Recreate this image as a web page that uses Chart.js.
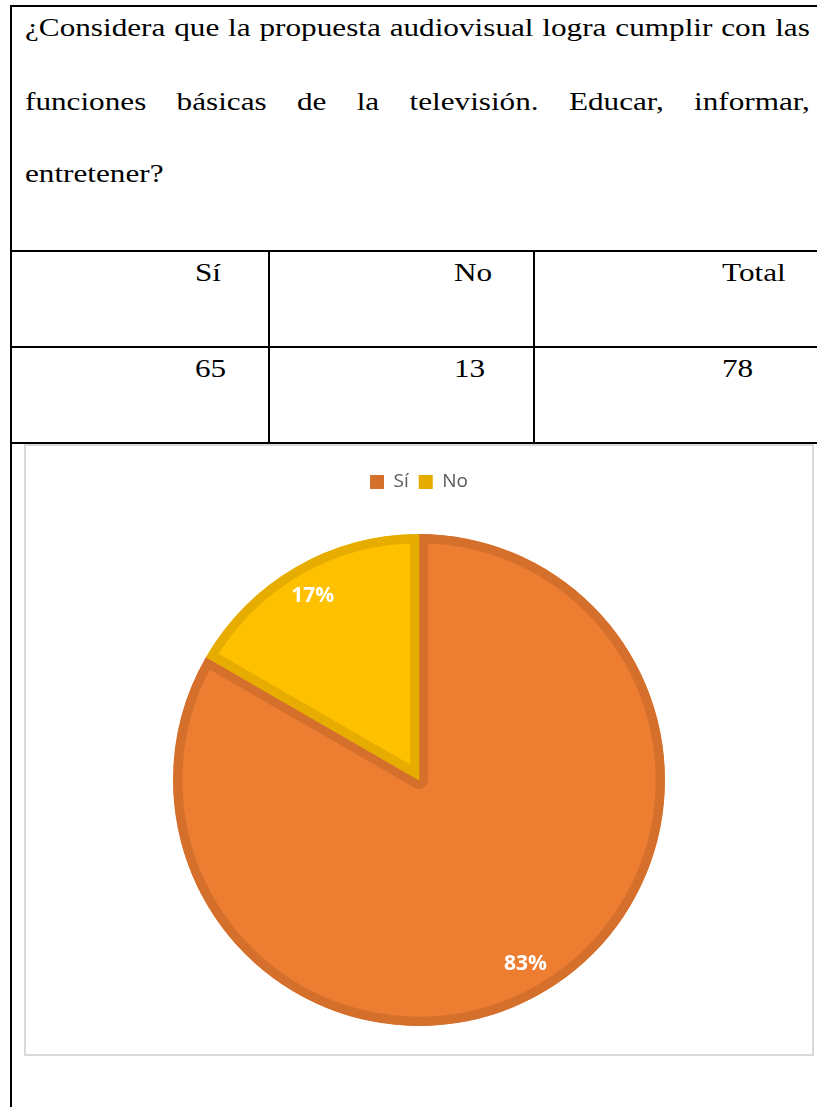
<!DOCTYPE html>
<html>
<head>
<meta charset="utf-8">
<script src="https://cdn.jsdelivr.net/npm/chart.js@4"></script>
<style>
  body { margin: 0; background: #fff; width: 817px; height: 1107px; overflow: hidden; position: relative; }
  .ln { position: absolute; background: #000; }
  .txt { position: absolute; font-family: "Liberation Serif", "Times New Roman", serif; font-size: 26px; line-height: 26px; color: #000; white-space: nowrap; transform-origin: left top; transform: scaleX(1.2); }
  .q { width: 654px; text-align: justify; text-align-last: justify; }
  .q.last { text-align-last: left; }
  #box { position: absolute; left: 24px; top: 444px; width: 790px; height: 612px; border: 2px solid #d9d9d9; box-sizing: border-box; }
  #box canvas { display: block; }
</style>
</head>
<body>
<!-- table rules -->
<div class="ln" style="left:10px;top:5px;width:2px;height:1102px"></div>
<div class="ln" style="left:10px;top:5px;width:807px;height:2px"></div>
<div class="ln" style="left:10px;top:250px;width:807px;height:2px"></div>
<div class="ln" style="left:10px;top:346px;width:807px;height:2px"></div>
<div class="ln" style="left:10px;top:442px;width:807px;height:2px"></div>
<div class="ln" style="left:268px;top:250px;width:2px;height:194px"></div>
<div class="ln" style="left:533px;top:250px;width:2px;height:194px"></div>

<div class="txt q" style="left:25px;top:15px">¿Considera que la propuesta audiovisual logra cumplir con las</div>
<div class="txt q" style="left:25px;top:89px">funciones básicas de la televisión. Educar, informar,</div>
<div class="txt q last" style="left:25px;top:161px">entretener?</div>

<div id="cells"></div>

<div id="box"><canvas id="pieChart" width="786" height="608"></canvas></div>

<script>
// answer counts from the survey table
const categories = ['Sí', 'No'];
const counts = [65, 13];
const headerRow = ['Sí', 'No', 'Total'];
const valueRow = [65, 13, 78];

const fillColors = ['#ED7D31', '#FFC000'];
const edgeColors = ['#D5702C', '#E6AC00'];

// table cells, left-indented like the Word table
const cellLeft = [195, 454, 722];
const cells = document.getElementById('cells');
headerRow.forEach((t, i) => {
  const d = document.createElement('div');
  d.className = 'txt';
  d.style.left = cellLeft[i] + 'px';
  d.style.top = '260px';
  d.textContent = t;
  cells.appendChild(d);
});
valueRow.forEach((v, i) => {
  const d = document.createElement('div');
  d.className = 'txt';
  d.style.left = cellLeft[i] + 'px';
  d.style.top = '356px';
  d.textContent = v;
  cells.appendChild(d);
});

// push the pie down below the legend
const legendGap = {
  id: 'legendGap',
  beforeInit(chart) {
    const fit = chart.legend.fit;
    chart.legend.fit = function fitWithGap() {
      fit.bind(chart.legend)();
      this.height += 32.5;
    };
  }
};

// percentage labels inside each slice
const pctLabels = {
  id: 'pctLabels',
  afterDatasetsDraw(chart) {
    const ctx = chart.ctx;
    const meta = chart.getDatasetMeta(0);
    const data = chart.data.datasets[0].data;
    const sum = data.reduce((a, b) => a + b, 0);
    ctx.save();
    ctx.fillStyle = '#ffffff';
    ctx.font = 'bold 21px "Open Sans"';
    ctx.textAlign = 'center';
    ctx.textBaseline = 'middle';
    meta.data.forEach((arc, i) => {
      const p = arc.getProps(['x', 'y', 'startAngle', 'endAngle', 'outerRadius'], true);
      const mid = (p.startAngle + p.endAngle) / 2;
      const r = p.outerRadius * 0.865;
      const txt = Math.round(data[i] / sum * 100) + '%';
      ctx.fillText(txt, p.x + Math.cos(mid) * r, p.y + Math.sin(mid) * r);
    });
    ctx.restore();
  }
};

const ctx = document.getElementById('pieChart').getContext('2d');
const pieChart = new Chart(ctx, {
  type: 'pie',
  data: {
    labels: categories,
    datasets: [{
      data: counts,
      backgroundColor: fillColors,
      borderColor: edgeColors,
      borderWidth: 9,
      borderAlign: 'inner',
      hoverOffset: 0
    }]
  },
  options: {
    responsive: false,
    animation: false,
    devicePixelRatio: 1,
    events: [],
    layout: { padding: { top: 16.5, bottom: 28, left: 0, right: 0 } },
    plugins: {
      legend: {
        position: 'top',
        labels: {
          color: '#595959',
          font: { family: 'Open Sans', size: 19 },
          boxWidth: 14,
          boxHeight: 14,
          padding: 10,
          generateLabels(chart) {
            return chart.data.labels.map((lbl, i) => ({
              text: lbl,
              fillStyle: edgeColors[i],
              strokeStyle: edgeColors[i],
              lineWidth: 0,
              fontColor: '#595959',
              hidden: false,
              index: i
            }));
          }
        }
      },
      tooltip: { enabled: false }
    }
  },
  plugins: [legendGap, pctLabels]
});
</script>
</body>
</html>
